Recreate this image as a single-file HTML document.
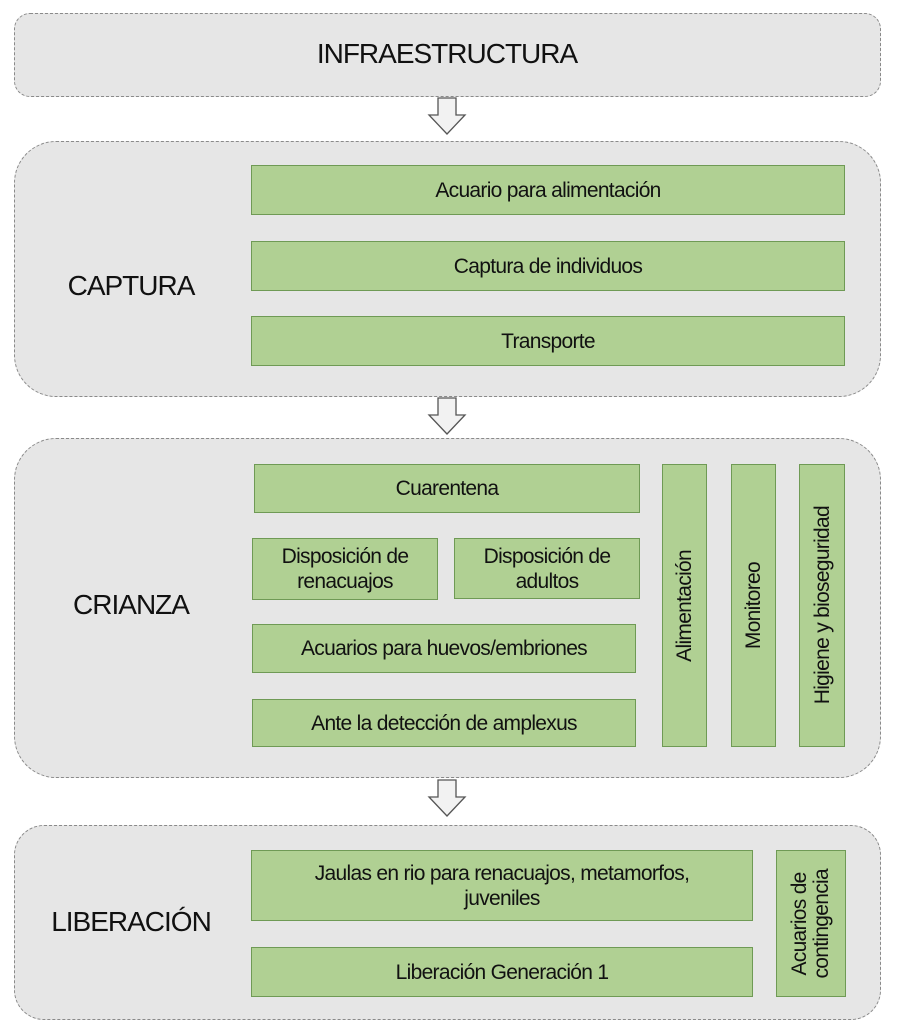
<!DOCTYPE html>
<html><head><meta charset="utf-8"><style>
body{margin:0;width:897px;height:1024px;background:#fff;position:relative;overflow:hidden;font-family:"Liberation Sans Narrow","Liberation Sans",sans-serif;color:#111}
.grp{position:absolute;left:14px;width:867px;background:#e6e6e6;border:1.5px dashed #8a8a8a;box-sizing:border-box}
.g{position:absolute;background:#b0d093;border:1.5px solid #6f9a55;box-sizing:border-box;display:flex;align-items:center;justify-content:center;text-align:center;font-size:21px;line-height:25px;letter-spacing:-0.7px}
.lab{position:absolute;font-size:28px;letter-spacing:-1px;transform:translate(-50%,-50%);white-space:nowrap}
.v{writing-mode:vertical-rl;transform:rotate(180deg)}
svg{position:absolute}
</style></head><body>
<div class="grp" style="top:13px;height:84px;border-radius:16px"></div>
<div class="lab" style="left:447px;top:54px">INFRAESTRUCTURA</div>

<div class="grp" style="top:141px;height:256px;border-radius:42px"></div>
<div class="lab" style="left:131px;top:286px">CAPTURA</div>
<div class="g" style="left:251px;top:165px;width:594px;height:50px">Acuario para alimentación</div>
<div class="g" style="left:251px;top:241px;width:594px;height:50px">Captura de individuos</div>
<div class="g" style="left:251px;top:316px;width:594px;height:50px">Transporte</div>

<div class="grp" style="top:438px;height:340px;border-radius:42px"></div>
<div class="lab" style="left:131px;top:605px">CRIANZA</div>
<div class="g" style="left:254px;top:464px;width:386px;height:49px">Cuarentena</div>
<div class="g" style="left:252px;top:538px;width:186px;height:62px">Disposición de<br>renacuajos</div>
<div class="g" style="left:454px;top:538px;width:186px;height:61px">Disposición de<br>adultos</div>
<div class="g" style="left:252px;top:624px;width:384px;height:49px">Acuarios para huevos/embriones</div>
<div class="g" style="left:252px;top:699px;width:384px;height:48px">Ante la detección de amplexus</div>
<div class="g" style="left:662px;top:464px;width:45px;height:283px"><span class="v">Alimentación</span></div>
<div class="g" style="left:731px;top:464px;width:45px;height:283px"><span class="v">Monitoreo</span></div>
<div class="g" style="left:799px;top:464px;width:46px;height:283px"><span class="v">Higiene y bioseguridad</span></div>

<div class="grp" style="top:825px;height:195px;border-radius:30px"></div>
<div class="lab" style="left:131px;top:922px">LIBERACIÓN</div>
<div class="g" style="left:251px;top:850px;width:502px;height:71px">Jaulas en rio para renacuajos, metamorfos,<br>juveniles</div>
<div class="g" style="left:251px;top:947px;width:502px;height:50px">Liberación Generación 1</div>
<div class="g" style="left:776px;top:850px;width:70px;height:147px;line-height:22px"><span class="v">Acuarios de<br>contingencia</span></div>

<svg width="897" height="1024" style="left:0;top:0">
<g fill="#f2f2f2" stroke="#555" stroke-width="1.3">
<path d="M438,98 H456 V115 H465 L447,134 L429,115 H438 Z"/>
<path d="M438,398 H456 V415 H465 L447,434 L429,415 H438 Z"/>
<path d="M438,780 H456 V797 H465 L447,816 L429,797 H438 Z"/>
</g></svg>
</body></html>
